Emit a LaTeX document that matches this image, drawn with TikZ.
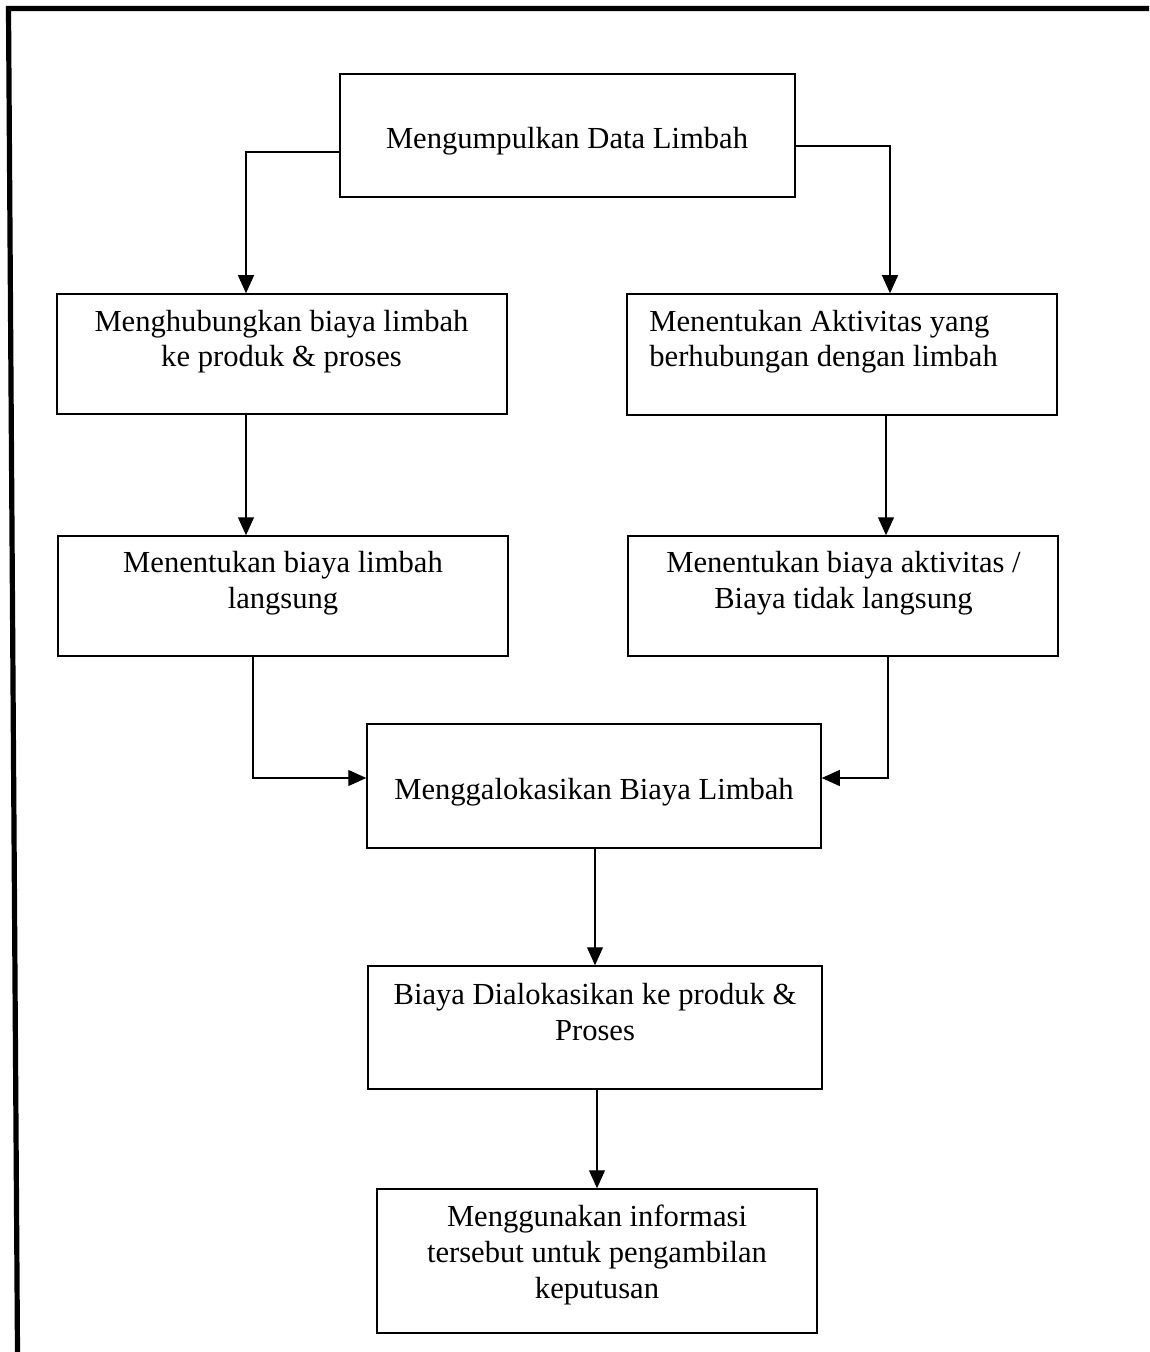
\documentclass[tikz,border=0pt]{standalone}
\usepackage{fontspec}
\setmainfont{Liberation Serif}
\usetikzlibrary{arrows.meta,fit}
\tikzset{
  box/.style={draw=black, line width=0.75pt, inner sep=0pt},
  txt/.style={inner sep=0pt, font=\fontsize{15.3}{17.8}\selectfont},
  arr/.style={draw=black, line width=0.55pt, -{Triangle[width=8pt,length=9pt]}},
  frame/.style={draw=black, line width=2.6pt}
}
\begin{document}
\begin{tikzpicture}[x=0.5pt,y=-0.5pt]
\useasboundingbox (0,0) rectangle (1149,1352);
% frame
\coordinate (fa) at (1149,8.5);
\coordinate (fb) at (8.5,8.5);
\coordinate (fc) at (17.5,1352);
\draw[frame, line join=miter] (fa) -- (fb) -- (fc);
% boxes
\node[box, fit={(340,74) (795,197)}] (b1) {};
\node[box, fit={(57,294) (507,414)}] (b2) {};
\node[box, fit={(627,294) (1057,415)}] (b3) {};
\node[box, fit={(58,536) (508,656)}] (b4) {};
\node[box, fit={(628,536) (1058,656)}] (b5) {};
\node[box, fit={(367,724) (821,848)}] (b6) {};
\node[box, fit={(368,966) (822,1089)}] (b7) {};
\node[box, fit={(377,1189) (817,1333)}] (b8) {};
% texts (base anchor = baseline of last line)
\node[txt, anchor=base] (t1) at (567,149) {Mengumpulkan Data Limbah};
\node[txt, anchor=base, align=center] (t2) at (281.5,367) {Menghubungkan biaya limbah\\ke produk \& proses};
\node[txt, anchor=base west, align=left] (t3) at (649,367) {Menentukan Aktivitas yang\\berhubungan dengan limbah};
\node[txt, anchor=base, align=center] (t4) at (283,608) {Menentukan biaya limbah\\langsung};
\node[txt, anchor=base, align=center] (t5) at (843.5,608) {Menentukan biaya aktivitas /\\Biaya tidak langsung};
\node[txt, anchor=base] (t6) at (594,799) {Menggalokasikan Biaya Limbah};
\node[txt, anchor=base, align=center] (t7) at (595,1040) {Biaya Dialokasikan ke produk \&\\Proses};
\node[txt, anchor=base, align=center] (t8) at (597,1298) {Menggunakan informasi\\tersebut untuk pengambilan\\keputusan};
% connectors
\draw[arr] (b1.west |- 0,152) -| (b2.north -| 246,0);
\draw[arr] (b1.east |- 0,146) -| (b3.north -| 890,0);
\draw[arr] (b2.south -| 246,0) -- (b4.north -| 246,0);
\draw[arr] (b3.south -| 886,0) -- (b5.north -| 886,0);
\draw[arr] (b4.south -| 253,0) |- (b6.west |- 0,778);
\draw[arr] (b5.south -| 888,0) |- (b6.east |- 0,778);
\draw[arr] (b6.south -| 595,0) -- (b7.north -| 595,0);
\draw[arr] (b7.south -| 597,0) -- (b8.north -| 597,0);
\end{tikzpicture}
\end{document}
